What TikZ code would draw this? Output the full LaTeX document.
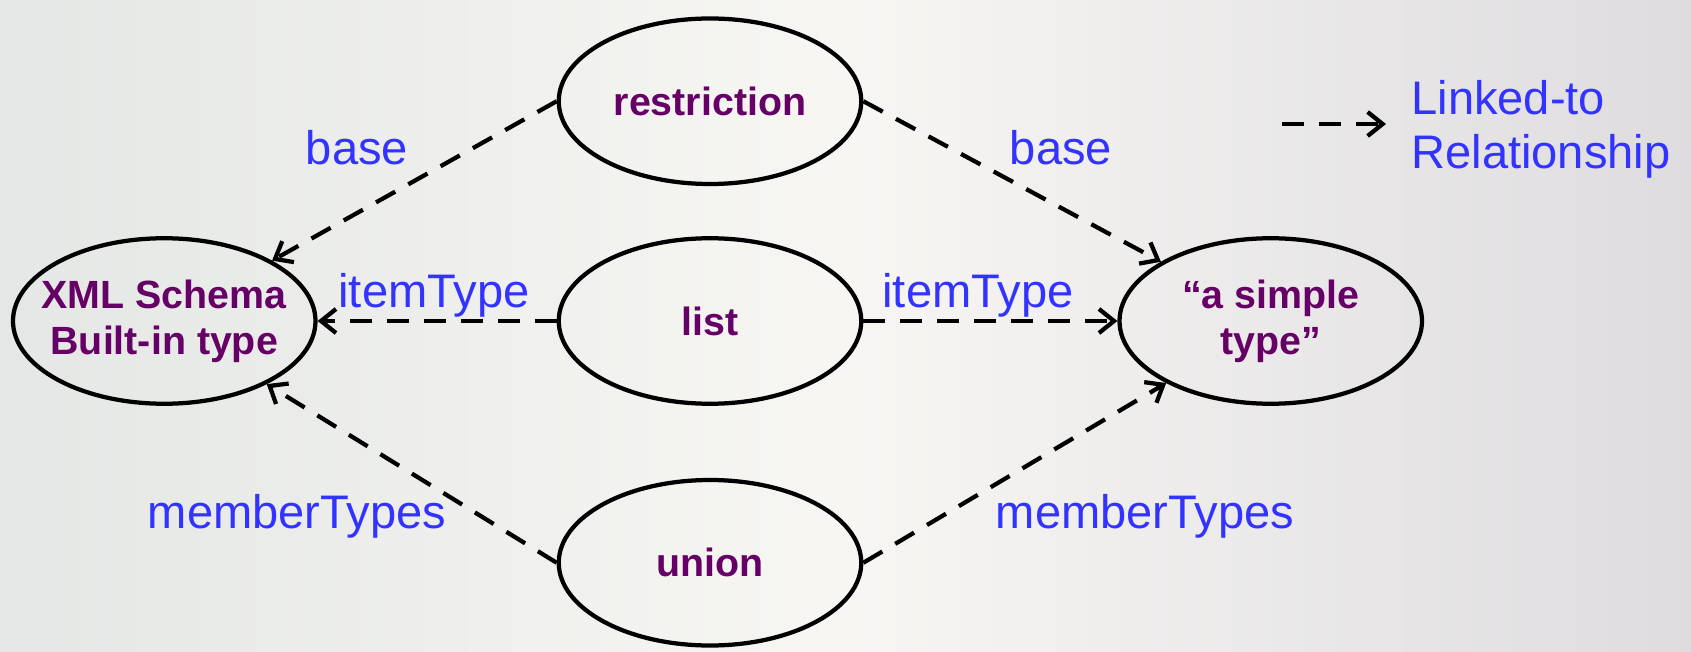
\documentclass[tikz,border=0pt]{standalone}
\usepackage{fontspec}
\setmainfont{Liberation Sans}
\usetikzlibrary{arrows.meta, shapes.geometric, positioning}

\definecolor{typepurple}{RGB}{102,0,102}
\definecolor{linkblue}{RGB}{51,51,255}
\definecolor{bgleft}{RGB}{228,231,229}
\definecolor{bgmid}{RGB}{247,246,243}
\definecolor{bgright}{RGB}{222,220,223}

\begin{document}
\begin{tikzpicture}[x=0.2mm, y=-0.2mm, >={Straight Barb[length=3mm,width=4.8mm]},
    typ/.style={ellipse, draw, line width=0.85mm, minimum width=60.5mm, minimum height=33.1mm,
        inner sep=-6mm, align=center, text=typepurple, font=\fontsize{22.4}{26}\selectfont\bfseries},
    link/.style={->, line width=0.85mm, dash pattern=on 4.4mm off 3mm},
    lbl/.style={text=linkblue, inner sep=0pt, font=\fontsize{26.8}{30.6}\selectfont}]
        \shade[left color=bgleft, right color=bgright, middle color=bgmid] (0,0) rectangle (1691,652);
        \useasboundingbox (0,0) rectangle (1691,652);
        % the three kinds of simple type derivation
        \node[typ] (list) at (710,321) {list};
        \node[typ, above=10mm of list] (restr) {restriction};
        \node[typ, below=14.4mm of list] (union) {union};
        \node[typ, left=47.8mm of list] (xml) {XML Schema\\Built-in type};
        \node[typ, right=50.8mm of list] (simple) {``a simple\\type''};
        \draw[link] (restr.west) -- (xml);
        \draw[link] (restr.east) -- (simple);
        \draw[link] (list.west) -- (xml.east);
        \draw[link] (list.east) -- (simple.west);
        \draw[link] (union.west) -- (xml);
        \draw[link] (union.east) -- (simple);
        % labels
        \node[lbl] (baseL) at (357,148) {base};
        \node[lbl] (baseR) at (1061,148) {base};
        \node[lbl] (itemL) at (434,295) {itemType};
        \node[lbl] (itemR) at (978,295) {itemType};
        \node[lbl] (memberL) at (297,516) {memberTypes};
        \node[lbl] (memberR) at (1145,516) {memberTypes};
        % legend
        \node[lbl, align=left, anchor=west] (legend) at (1411,129) {Linked-to\\Relationship};
        \coordinate (legstart) at (1282,124);
        \draw[link] (legstart) -- ([xshift=-5mm]legstart -| legend.west);
    \end{tikzpicture}
\end{document}
